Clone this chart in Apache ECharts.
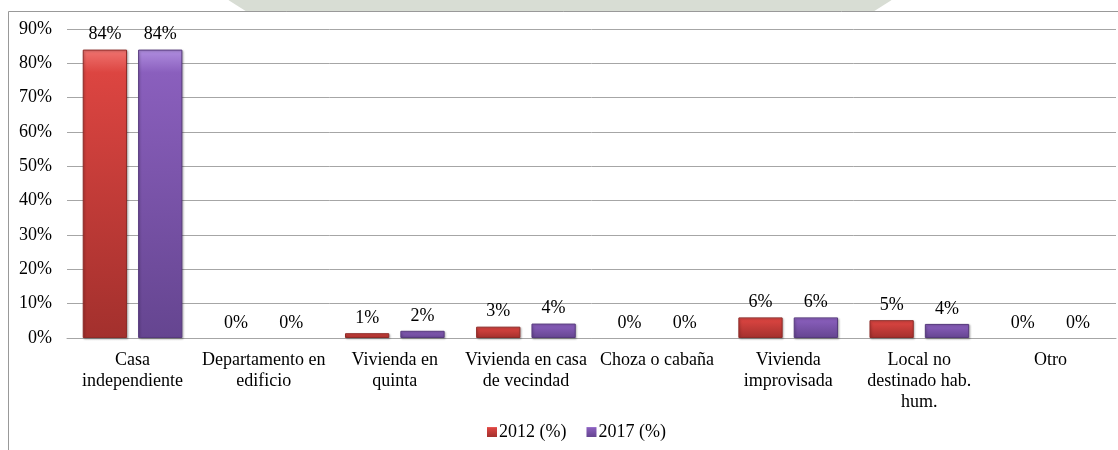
<!DOCTYPE html>
<html>
<head>
<meta charset="utf-8">
<script src="https://cdn.jsdelivr.net/npm/echarts@6/dist/echarts.min.js"></script>
<style>
  html, body { margin: 0; padding: 0; background: #fff; }
  #chart { width: 1118px; height: 450px; }
</style>
</head>
<body>
<div id="chart"></div>
<script>
// tipo de vivienda, % de hogares
const categories = [
  "Casa\nindependiente",
  "Departamento en\nedificio",
  "Vivienda en\nquinta",
  "Vivienda en casa\nde vecindad",
  "Choza o cabaña",
  "Vivienda\nimprovisada",
  "Local no\ndestinado hab.\nhum.",
  "Otro"
];
const values2012 = [84, 0, 1.4, 3.3, 0, 6.0, 5.2, 0];
const values2017 = [84, 0, 2.1, 4.2, 0, 6.0, 4.1, 0];
const yTicks = [0, 10, 20, 30, 40, 50, 60, 70, 80, 90];

const font = "'Liberation Serif', 'Times New Roman', serif";

function grad(top, mid, bottom) {
  return new echarts.graphic.LinearGradient(0, 0, 0, 1, [
    { offset: 0, color: top },
    { offset: 0.08, color: mid },
    { offset: 1, color: bottom }
  ]);
}

// borde oscuro solo en barras con valor (las de 0% no se ven)
function withEdge(values, edge) {
  return values.map(function(v) {
    return {
      value: v,
      itemStyle: v > 0 ? { borderColor: edge, borderWidth: 1 } : {}
    };
  });
}

const chart = echarts.init(document.getElementById("chart"));

const barLabel = {
  show: true,
  position: "top",
  distance: 6,
  color: "#000",
  fontFamily: font,
  fontSize: 18,
  formatter: function(p) {
    return Math.round(p.value) + "%";
  }
};

chart.setOption({
  animation: false,
  graphic: [
    // sello de fondo (marca de agua)
    {
      type: "circle",
      z: -10,
      shape: { cx: 560, cy: -494, r: 595 },
      style: { fill: "#d8ddd4" }
    },
    {
      type: "rect",
      z: -5,
      shape: { x: 8.5, y: 11.5, width: 1200, height: 500 },
      style: { fill: "#fff", stroke: "#999", lineWidth: 1 }
    }
  ],
  grid: {
    left: 67,
    right: 2,
    top: 29,
    bottom: 112
  },
  legend: {
    data: ["2012 (%)", "2017 (%)"],
    bottom: 4,
    left: 482,
    itemWidth: 10,
    itemHeight: 10,
    itemGap: 20,
    icon: "rect",
    textStyle: { fontFamily: font, fontSize: 18, color: "#000", padding: [0, 0, 0, -3] }
  },
  xAxis: {
    type: "category",
    data: categories,
    axisLine: { lineStyle: { color: "#a6a6a6" } },
    axisTick: { show: false },
    axisLabel: {
      interval: 0,
      margin: 12,
      color: "#000",
      fontFamily: font,
      fontSize: 18,
      lineHeight: 21
    }
  },
  yAxis: {
    type: "value",
    min: yTicks[0],
    max: yTicks[yTicks.length - 1],
    interval: 10,
    axisLine: { show: false },
    axisTick: { show: false },
    splitLine: { lineStyle: { color: "#a6a6a6" } },
    axisLabel: {
      margin: 15,
      color: "#000",
      fontFamily: font,
      fontSize: 18,
      formatter: "{value}%"
    }
  },
  series: [
    {
      name: "2012 (%)",
      type: "bar",
      data: withEdge(values2012, "#8e2b28"),
      barGap: "25%",
      barCategoryGap: "24%",
      itemStyle: {
        color: grad("#f07470", "#dc4541", "#a3302d"),
        shadowColor: "rgba(0,0,0,0.25)",
        shadowBlur: 2,
        shadowOffsetX: 1,
        shadowOffsetY: 1
      },
      label: barLabel
    },
    {
      name: "2017 (%)",
      type: "bar",
      data: withEdge(values2017, "#573a7d"),
      itemStyle: {
        color: grad("#b08ee0", "#8a5fbd", "#654590"),
        shadowColor: "rgba(0,0,0,0.25)",
        shadowBlur: 2,
        shadowOffsetX: 1,
        shadowOffsetY: 1
      },
      label: barLabel
    }
  ]
});
</script>
</body>
</html>
